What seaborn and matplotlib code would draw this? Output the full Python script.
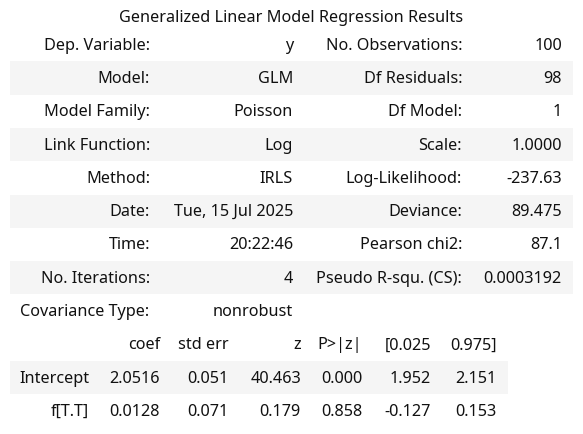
import matplotlib
matplotlib.use("Agg")
import matplotlib.pyplot as plt
import seaborn as sns

# summary table contents
title = "Generalized Linear Model Regression Results"
left_labels = ["Dep. Variable:", "Model:", "Model Family:", "Link Function:", "Method:",
               "Date:", "Time:", "No. Iterations:"]
left_values = ["y", "GLM", "Poisson", "Log", "IRLS", "Tue, 15 Jul 2025", "20:22:46", "4"]
right_labels = ["No. Observations:", "Df Residuals:", "Df Model:", "Scale:", "Log-Likelihood:",
                "Deviance:", "Pearson chi2:", "Pseudo R-squ. (CS):"]
right_values = ["100", "98", "1", "1.0000", "-237.63", "89.475", "87.1", "0.0003192"]
cov_label = "Covariance Type:"
cov_value = "nonrobust"

coef_header = ["", "coef", "std err", "z", "P>|z|", "[0.025", "0.975]"]
coef_rows = [
    ["Intercept", "2.0516", "0.051", "40.463", "0.000", "1.952", "2.151"],
    ["f[T.T]", "0.0128", "0.071", "0.179", "0.858", "-0.127", "0.153"],
]

sns.set_theme(style="white")
plt.rcParams["font.family"] = ["Noto Sans", "DejaVu Sans"]

W, H = 583, 434
fig = plt.figure(figsize=(W / 100, H / 100), dpi=100)
ax = fig.add_axes([0, 0, 1, 1])
ax.set_xlim(0, W)
ax.set_ylim(H, 0)
ax.axis("off")

fs = 11.7
txt = "#111111"
stripe = "#f5f5f5"
row_h = 33.3
top = 28

ax.text(W / 2, 18, title, ha="center", va="center", fontsize=fs, color=txt)

# first table
col_r = [150, 293, 462, 562]
for i in range(len(left_labels)):
    y0 = top + i * row_h
    if i % 2 == 1:
        ax.add_patch(plt.Rectangle((10, y0), 563, row_h, color=stripe, lw=0, zorder=0))
    yc = y0 + row_h / 2 + 1
    for x, s in zip(col_r, [left_labels[i], left_values[i], right_labels[i], right_values[i]]):
        ax.text(x, yc, s, ha="right", va="center", fontsize=fs, color=txt)

# covariance row
yc = top + 8 * row_h + row_h / 2 + 1
ax.text(20, yc, cov_label, ha="left", va="center", fontsize=fs, color=txt)
ax.text(253, yc, cov_value, ha="center", va="center", fontsize=fs, color=txt)

# coefficient table
coef_r = [89, 160, 229, 301, 362, 431, 497]
y0 = top + 9 * row_h
for j, s in enumerate(coef_header):
    ax.text(coef_r[j], y0 + row_h / 2 + 1, s, ha="right", va="center", fontsize=fs, color=txt)
for i, row in enumerate(coef_rows):
    y0 = top + (10 + i) * row_h
    if i % 2 == 0:
        ax.add_patch(plt.Rectangle((10, y0), 498, row_h, color=stripe, lw=0, zorder=0))
    for j, s in enumerate(row):
        ax.text(coef_r[j], y0 + row_h / 2 + 1, s, ha="right", va="center", fontsize=fs, color=txt)

fig.savefig("out.png", dpi=100, facecolor="white")
